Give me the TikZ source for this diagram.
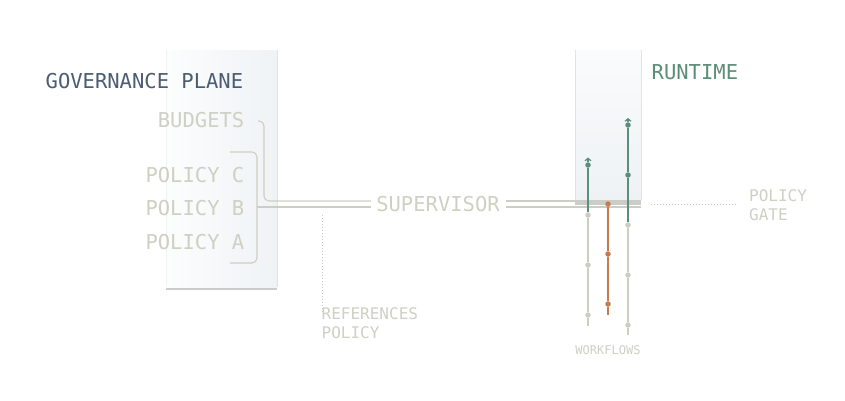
\documentclass[tikz,border=0pt]{standalone}
\usepackage{fontspec}
\newfontfamily\dmono{DejaVu Sans Mono}
\usetikzlibrary{arrows.meta}
\definecolor{slate}{HTML}{4B5D73}
\definecolor{pale}{HTML}{CFD0C4}
\definecolor{rtgreen}{HTML}{5B8E78}
\definecolor{orng}{HTML}{C57B4B}
\definecolor{wline}{HTML}{CDCEC2}
\definecolor{dotc}{HTML}{C6C7BD}
\definecolor{shadowc}{HTML}{CACCCE}
\definecolor{panelL}{HTML}{FCFDFD}
\definecolor{panelR}{HTML}{EFF3F6}
\definecolor{panelT}{HTML}{FAFBFC}
\definecolor{panelB}{HTML}{EEF2F5}
\definecolor{edgec}{HTML}{E1E4E7}
\begin{document}
\begin{tikzpicture}[x=1pt,y=-1pt,
  big/.style={font=\dmono\fontsize{20.5}{24}\selectfont, inner sep=0pt},
  mid/.style={font=\dmono\fontsize{16}{19}\selectfont, inner sep=0pt, text=pale},
  small/.style={font=\dmono\fontsize{12}{14}\selectfont, inner sep=0pt, text=pale},
  conn/.style={draw=wline, line width=1.1pt, rounded corners=5pt},
  guide/.style={draw=dotc, line width=0.8pt, dash pattern=on 1pt off 2pt},
  gline/.style={draw=wline, line width=1.2pt},
  grline/.style={draw=rtgreen, line width=1.2pt},
  orline/.style={draw=orng, line width=1.2pt},
  gdot/.style={circle, fill=wline, inner sep=0pt, minimum size=5.5pt},
  grdot/.style={circle, fill=rtgreen, inner sep=0pt, minimum size=5.5pt},
  ordot/.style={circle, fill=orng, inner sep=0pt, minimum size=5.5pt},
  tiparrow/.style={-{Straight Barb[length=2.5pt,width=6pt]}},
]
\useasboundingbox (0,0) rectangle (845,400);
\fill[white] (0,0) rectangle (845,400);

% governance panel
\fill[shadowc] (166,284) rectangle (277,290);
\shade[left color=panelL, right color=panelR] (166,50) rectangle (277,287);
\draw[edgec, line width=0.8pt] (277,50) -- (277,287);
\draw[edgec!50, line width=0.6pt] (166,50) -- (166,287);

% runtime panel
\fill[shadowc] (575,199) rectangle (641,204.5);
\shade[top color=panelT, bottom color=panelB] (575,50) rectangle (641,200);
\draw[edgec, line width=0.8pt] (641,50) -- (641,200);
\draw[edgec, line width=0.6pt] (575,50) -- (575,200);

% texts
\node[big, text=slate, anchor=west] (title) at (45.5,81) {GOVERNANCE PLANE};
\node[big, text=pale, anchor=east] (budgets) at (244.5,120) {BUDGETS};
\node[big, text=pale, anchor=east] (polc) at (244.5,175) {POLICY C};
\node[big, text=pale, anchor=east] (polb) at (244.5,208.3) {POLICY B};
\node[big, text=pale, anchor=east] (pola) at (244.5,241.7) {POLICY A};
\node[big, text=pale] (sup) at (438,204.2) {SUPERVISOR};
\node[big, text=rtgreen, anchor=west] (runtime) at (651.5,72.5) {RUNTIME};
\node[mid, anchor=west] (pg1) at (749,195.5) {POLICY};
\node[mid, anchor=west] (pg2) at (749,214.2) {GATE};
\node[mid, anchor=west] (rp1) at (321.5,313.5) {REFERENCES};
\node[mid, anchor=west] (rp2) at (321.5,332.5) {POLICY};
\node[small] (wf) at (608,350) {WORKFLOWS};

% brackets and supervisor lines
\coordinate (bstart) at (258,121);
\coordinate (bturn) at (264,121);
\coordinate (bdown) at (264,201);
\coordinate (pctop) at (230,152);
\coordinate (pcbot) at (230,263);
\coordinate (ptip) at (257,207);
\coordinate (upL) at ([xshift=-5pt]sup.west |- bdown);
\coordinate (loL) at ([xshift=-5pt]sup.west |- ptip);
\coordinate (upR) at ([xshift=6pt]sup.east |- bdown);
\coordinate (loR) at ([xshift=6pt]sup.east |- ptip);
\coordinate (upE) at (641,201);
\coordinate (loE) at (641,207);
\draw[conn] (bstart) -- (bturn) -- (bdown) -- (upL);
\draw[conn] (pctop) -- (257,152) -- (257,263) -- (pcbot);
\draw[conn] (ptip) -- (loL);
\draw[conn] (upR) -- (upE);
\draw[conn] (loR) -- (loE);

% guides
\coordinate (gA) at (322,215);
\draw[guide] (gA) -- ([yshift=-5pt]rp1.north west -| gA);
\coordinate (gB) at (651,204);
\draw[guide] (gB) -- ([xshift=-11pt]pg1.west |- gB);

% workflows
\coordinate (w1t) at (588,157.5);
\coordinate (w1e) at (588,326);
\coordinate (w2e) at (608,315);
\coordinate (w3t) at (628,118);
\coordinate (w3e) at (628,335);
\node[grdot] (w1a) at (588,165) {};
\node[gdot] (w1b) at (588,215) {};
\node[gdot] (w1c) at (588,265) {};
\node[gdot] (w1d) at (588,315) {};
\node[ordot] (w2a) at (608,204) {};
\node[ordot] (w2b) at (608,254) {};
\node[ordot] (w2c) at (608,304) {};
\node[grdot] (w3a) at (628,125) {};
\node[grdot] (w3b) at (628,175) {};
\node[gdot] (w3c) at (628,225) {};
\node[gdot] (w3d) at (628,275) {};
\node[gdot] (w3e0) at (628,325) {};

\draw[grline, tiparrow] (w1a) -- (w1t);
\draw[grline] (w1a) -- (w1b);
\draw[gline] (w1b) -- (w1c) -- (w1d) -- (w1e);
\draw[orline] (w2a) -- (w2b) -- (w2c) -- (w2e);
\draw[grline, tiparrow] (w3a) -- (w3t);
\draw[grline] (w3a) -- (w3b) -- (w3c);
\draw[gline] (w3c) -- (w3d) -- (w3e0) -- (w3e);
\end{tikzpicture}
\end{document}
